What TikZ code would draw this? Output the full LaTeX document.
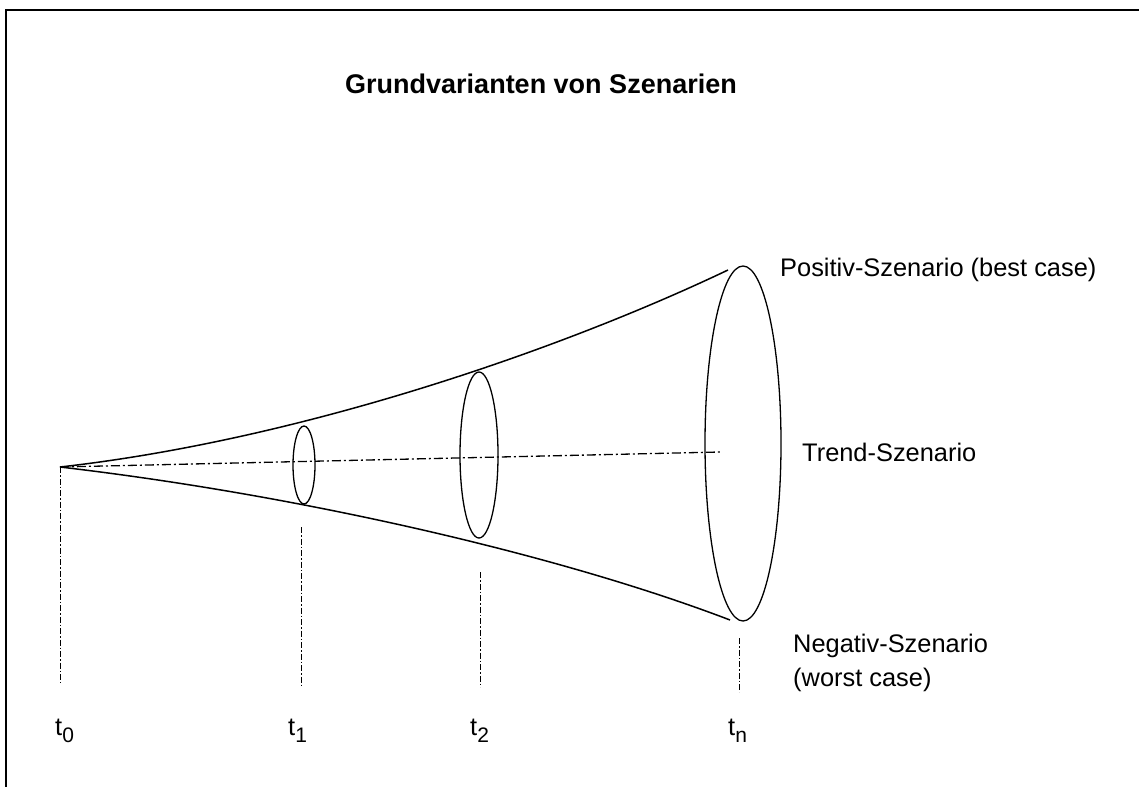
\documentclass[tikz,border=0pt]{standalone}
\usepackage{fontspec}
\setmainfont{Liberation Sans}
\usetikzlibrary{shapes.geometric}
\newcommand{\tlab}[1]{t\raisebox{-7pt}{\fontsize{21}{21}\selectfont #1}}
\begin{document}
\begin{tikzpicture}[x=1pt,y=-1pt,
  frame/.style={line width=2.4pt},
  cone/.style={line width=1.5pt},
  ring/.style={draw, ellipse, line width=1.3pt, inner sep=0pt},
  trend/.style={line width=1.3pt, dash pattern=on 9pt off 3pt on 2pt off 3pt},
  tick/.style={line width=0.9pt, dash pattern=on 6pt off 2pt on 1.5pt off 2pt},
  lab/.style={anchor=base west, inner sep=0pt, font=\fontsize{25.4}{30}\selectfont},
  title/.style={anchor=base, inner sep=0pt, font=\fontsize{27}{30}\selectfont\bfseries}]
\useasboundingbox (0,0) rectangle (1139,787);
\fill[white] (0,0) rectangle (1139,787);
% frame (top and left only)
\draw[frame] (1139,10) -- (6,10) -- (6,787);
% title
\node[title] (title) at (541,93) {Grundvarianten von Szenarien};
% key points
\coordinate (apex) at (60,467);
\coordinate (upEnd) at (728,270);
\coordinate (loEnd) at (730,620);
\coordinate (trendEnd) at (720,452);
% ellipses
\node[ring, minimum width=22pt, minimum height=78pt] (e1) at (304,465) {};
\node[ring, minimum width=38pt, minimum height=166pt] (e2) at (479,455) {};
\node[ring, minimum width=76pt, minimum height=355pt] (e3) at (743,443.5) {};
% cone outline
\draw[cone] (apex) .. controls (300,440) and (560,350) .. (upEnd);
\draw[cone] (apex) .. controls (300,495) and (560,555) .. (loEnd);
% trend line
\draw[trend] (apex) -- (trendEnd);
% vertical time markers
\coordinate (v0b) at (60,683);
\coordinate (v1t) at (301,527);
\coordinate (v1b) at (301,685);
\coordinate (v2t) at (480,572);
\coordinate (v2b) at (480,687);
\coordinate (vnt) at (739,638);
\coordinate (vnb) at (739,692);
\draw[tick] (apex) -- (v0b);
\draw[tick] (v1t) -- (v1b);
\draw[tick] (v2t) -- (v2b);
\draw[tick] (vnt) -- (vnb);
% labels
\node[lab] (pos) at (780,276) {Positiv-Szenario (best case)};
\node[lab] (trd) at (802,461) {Trend-Szenario};
\node[lab] (neg1) at (793,652) {Negativ-Szenario};
\node[lab] (neg2) at (793,686) {(worst case)};
\node[lab] (t0) at (55,735) {\tlab{0}};
\node[lab] (t1) at (288,735) {\tlab{1}};
\node[lab] (t2) at (470,735) {\tlab{2}};
\node[lab] (tn) at (728,735) {\tlab{n}};
\end{tikzpicture}
\end{document}
